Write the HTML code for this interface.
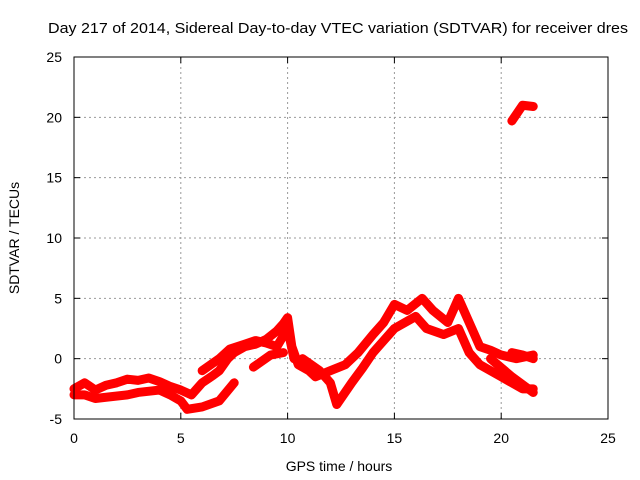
<!DOCTYPE html>
<html><head><meta charset="utf-8"><style>
body{margin:0;background:#fff}
svg{display:block;font-family:"Liberation Sans",sans-serif}
</style></head><body>
<svg id="c" width="640" height="480">
<text x="48" y="33" font-size="15" textLength="580" lengthAdjust="spacingAndGlyphs">Day 217 of 2014, Sidereal Day-to-day VTEC variation (SDTVAR) for receiver dres</text>
<g id="grid"></g><g id="data"></g>
<rect x="74" y="57" width="534" height="362" fill="none" stroke="#000" stroke-width="1"/>
<g id="ticks"></g>
<text x="339" y="471" font-size="14" text-anchor="middle">GPS time / hours</text>
<text transform="translate(19,238) rotate(-90)" font-size="14" text-anchor="middle">SDTVAR / TECUs</text>
</svg>
<script>
const xTicks=[0,5,10,15,20,25];
const yTicks=[-5,0,5,10,15,20,25];
const seriesA=[[0,-2.5],[0.5,-2],[1,-2.6],[1.5,-2.2],[2,-2],[2.5,-1.7],[3,-1.8],[3.5,-1.6],[4,-1.9],[4.5,-2.3],[5,-2.6],[5.5,-3],[6,-2],[6.5,-1.4],[6.8,-1],[7.2,0],[7.5,0.5],[8,1],[8.5,1.2],[9,1.6],[9.5,2.3],[9.8,2.9],[10,3.4],[10.2,1],[10.5,-0.5],[11,-1],[11.3,-1.5],[12,-1],[12.7,-0.5],[13.3,0.5],[14,2],[14.5,3],[15,4.5],[15.6,4],[16.3,5],[16.8,4],[17.5,3],[18,5],[18.5,3],[19,1],[19.5,0.7],[20,0.3],[20.7,0],[21.5,0.3]];
const seriesB=[[0,-3],[0.5,-3],[1,-3.3],[1.5,-3.2],[2.5,-3],[3,-2.8],[4,-2.6],[4.5,-3],[5,-3.5],[5.3,-4.2],[6,-4],[6.8,-3.5],[7.5,-2]];
const seriesC=[[6,-1],[6.8,0],[7.3,0.8],[8,1.2],[8.5,1.5],[9,1.3],[9.5,1],[10,2.5],[10.3,0]];
const seriesD=[[8.4,-0.7],[9.2,0.3],[9.8,0.5]];
const seriesE=[[10.7,0],[11.5,-1],[12,-2],[12.3,-3.8],[13,-2],[13.5,-0.8],[14,0.5],[14.5,1.5],[15,2.5],[15.5,3],[16,3.5],[16.5,2.5],[17.3,2],[18,2.5],[18.5,0.5],[19,-0.5],[20,-1.5],[21,-2.5],[21.5,-2.5]];
const seriesF=[[19.5,0],[20.5,-1.5],[21.5,-2.8]];
const seriesG=[[20.5,0.5],[21,0.3],[21.5,0]];
const seriesH=[[20.5,19.7],[21,21],[21.5,20.9]];
const NS="http://www.w3.org/2000/svg";
const X0=74,X1=608,Y0=419,Y1=57;
function sx(v){return X0+(v-0)/(25-0)*(X1-X0);}
function sy(v){return Y0-(v+5)/(30)*(Y0-Y1);}
function mk(t,a){const e=document.createElementNS(NS,t);for(const k in a)e.setAttribute(k,a[k]);return e;}
const grid=document.getElementById('grid'),ticks=document.getElementById('ticks'),data=document.getElementById('data');
xTicks.forEach(t=>{const x=sx(t);
 if(t>0&&t<25){const g=mk('line',{x1:x,x2:x,y1:Y1,y2:Y0,stroke:'#999','stroke-dasharray':'2,3'});grid.appendChild(g);}
 const l=mk('line',{x1:x,x2:x,y1:Y0,y2:Y0-6,stroke:'#000'});ticks.appendChild(l);
 const l2=mk('line',{x1:x,x2:x,y1:Y1,y2:Y1+6,stroke:'#000'});ticks.appendChild(l2);
 const tx=mk('text',{x:x,y:443,'font-size':14,'text-anchor':'middle'});tx.textContent=t;ticks.appendChild(tx);});
yTicks.forEach(t=>{const y=sy(t);
 if(t>-5&&t<25){const g=mk('line',{x1:X0,x2:X1,y1:y,y2:y,stroke:'#999','stroke-dasharray':'2,3'});grid.appendChild(g);}
 const l=mk('line',{x1:X0,x2:X0+6,y1:y,y2:y,stroke:'#000'});ticks.appendChild(l);
 const l2=mk('line',{x1:X1,x2:X1-6,y1:y,y2:y,stroke:'#000'});ticks.appendChild(l2);
 const tx=mk('text',{x:62,y:y+5,'font-size':14,'text-anchor':'end'});tx.textContent=t;ticks.appendChild(tx);});
[seriesA,seriesB,seriesC,seriesD,seriesE,seriesF,seriesG,seriesH].forEach(s=>{
 const p=mk('polyline',{points:s.map(d=>sx(d[0])+','+sy(d[1])).join(' '),fill:'none',stroke:'#f00','stroke-width':9,'stroke-linejoin':'round','stroke-linecap':'round'});
 
 
 data.appendChild(p);});
</script>
</body></html>
